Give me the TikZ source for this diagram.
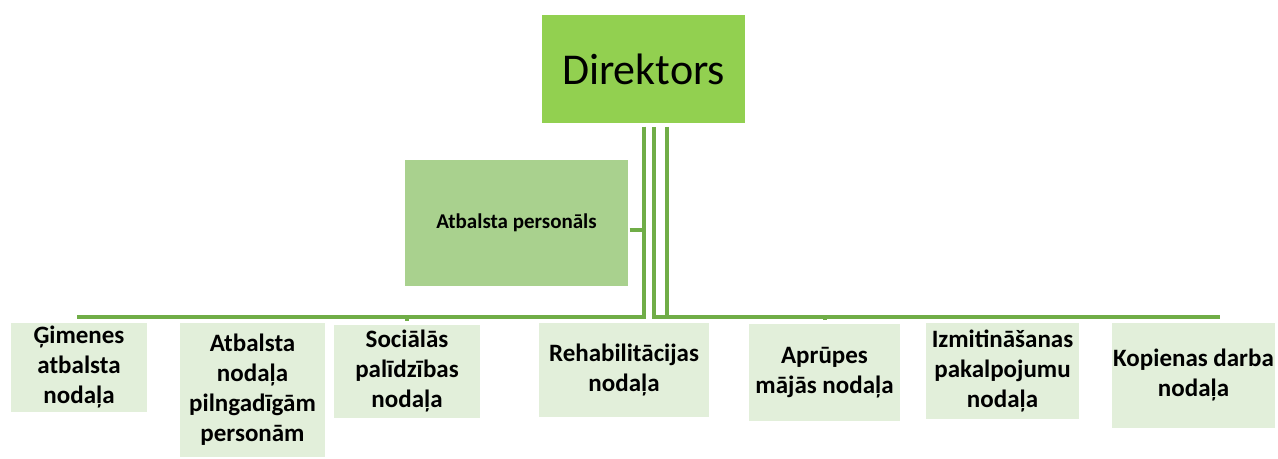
\documentclass[tikz,border=0pt]{standalone}
\usepackage{fontspec}
\setmainfont{Carlito}
\definecolor{dirgreen}{HTML}{92D050}
\definecolor{apgreen}{HTML}{A9D18E}
\definecolor{kidgreen}{HTML}{E2EFDA}
\definecolor{linegreen}{HTML}{70AD47}
\begin{document}
\begin{tikzpicture}[x=0.5pt,y=-0.5pt,
    box/.style={draw=white,line width=0.6pt,inner sep=0pt,align=center},
    kid/.style={box,fill=kidgreen,font=\fontsize{12.5}{15}\selectfont\bfseries},
    conn/.style={draw=linegreen,line width=2pt}]
    \useasboundingbox (0,0) rectangle (1278,459);

    % top
    \node[box,fill=dirgreen,minimum width=102.5pt,minimum height=55pt,
        font=\fontsize{22}{26}\selectfont] (dir) at (643.5,69) {Direktors};
    \node[box,fill=apgreen,minimum width=112.5pt,minimum height=64pt,
        font=\fontsize{10.5}{13}\selectfont\bfseries] (ap) at (516.5,223) {Atbalsta personāls};

    % departments
    \node[kid,minimum width=69pt,minimum height=45.5pt] (gim) at (79,367.5) {Ģimenes\\atbalsta\\nodaļa};
    \node[kid,minimum width=73.5pt,minimum height=68pt] (apa) at (252.5,390) {Atbalsta\\nodaļa\\pilngadīgām\\personām};
    \node[kid,minimum width=74pt,minimum height=47.5pt] (soc) at (407,371.5) {Sociālās\\palīdzības\\nodaļa};
    \node[kid,minimum width=86pt,minimum height=48pt] (reh) at (624,370) {Rehabilitācijas\\nodaļa};
    \node[kid,minimum width=76.5pt,minimum height=49.5pt] (apr) at (824.5,372.5) {Aprūpes\\mājās nodaļa};
    \node[kid,minimum width=77.5pt,minimum height=49pt] (izm) at (1002.5,371) {Izmitināšanas\\pakalpojumu\\nodaļa};
    \node[kid,minimum width=82.5pt,minimum height=53.5pt] (kop) at (1193.5,375.5) {Kopienas darba\\nodaļa};

    % connectors
    \coordinate (tA) at (644,127);
    \coordinate (tB) at (654,127);
    \coordinate (tC) at (667,127);
    \coordinate (bar) at (0,317);
    \draw[conn] ([yshift=-3.5pt]ap.east) -- ([yshift=-3.5pt]ap.east -| tA);
    \foreach \c/\t/\dx in {gim/tA/0,apa/tA/0,soc/tA/0,reh/tA/0,apr/tB/0,izm/tC/5,kop/tC/12} {
        \draw[conn] (\t) -- (\t |- bar) -| ([xshift=\dx pt,yshift=1pt]\c.north);
    }
\end{tikzpicture}
\end{document}
